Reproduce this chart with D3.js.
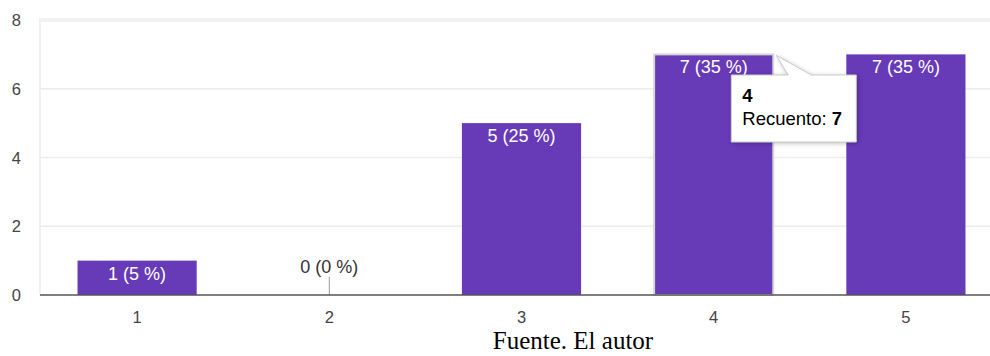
<!DOCTYPE html>
<html>
<head>
<meta charset="utf-8">
<script src="https://cdn.jsdelivr.net/npm/d3@7"></script>
<style>
  body { margin: 0; background: #fff; }
  text { font-family: Arial, "Liberation Sans", sans-serif; }
</style>
</head>
<body>
<script>
// chart data
const categories = ['1', '2', '3', '4', '5'];
const counts = [1, 0, 5, 7, 7];
const percents = [5, 0, 25, 35, 35];
const yTicks = [0, 2, 4, 6, 8];
const hovered = '4';

const width = 990;
const height = 356;

const svg = d3.select('body')
  .append('svg')
  .attr('width', width)
  .attr('height', height);

const x = d3.scaleBand()
  .domain(categories)
  .range([41, 1002])
  .paddingInner(0.38)
  .paddingOuter(0.19);

const y = d3.scaleLinear()
  .domain([0, 8])
  .range([295, 20]);

// plot frame + gridlines
svg.append('line')
  .attr('x1', 40).attr('x2', 40)
  .attr('y1', 18).attr('y2', 295)
  .attr('stroke', '#f0f0f0').attr('stroke-width', 2);

svg.append('g')
  .selectAll('line')
  .data(yTicks.filter(d => d > 0))
  .enter()
  .append('line')
  .attr('x1', 40).attr('x2', width)
  .attr('y1', d => y(d)).attr('y2', d => y(d))
  .attr('stroke', d => d === 8 ? '#f1f1f1' : '#ececec')
  .attr('stroke-width', d => d === 8 ? 4 : 1.5);

// y tick labels
svg.append('g')
  .selectAll('text')
  .data(yTicks)
  .enter()
  .append('text')
  .attr('x', 21)
  .attr('y', d => y(d) + 6)
  .attr('text-anchor', 'end')
  .attr('font-size', 16.5)
  .attr('fill', '#444')
  .text(d => d);

const data = categories.map((c, i) => ({ cat: c, n: counts[i], pct: percents[i] }));

// bars
svg.append('g')
  .selectAll('rect')
  .data(data.filter(d => d.n > 0))
  .enter()
  .append('rect')
  .attr('x', d => x(d.cat))
  .attr('y', d => y(d.n))
  .attr('width', x.bandwidth())
  .attr('height', d => y(0) - y(d.n))
  .attr('fill', '#673ab7')
  .attr('stroke', d => d.cat === hovered ? '#d6d6d6' : 'none')
  .attr('stroke-width', 2);

// labels inside bars
svg.append('g')
  .selectAll('text')
  .data(data.filter(d => d.n > 0))
  .enter()
  .append('text')
  .attr('x', d => x(d.cat) + x.bandwidth() / 2)
  .attr('y', d => y(d.n) + 19)
  .attr('text-anchor', 'middle')
  .attr('font-size', 18)
  .attr('fill', '#fff')
  .text(d => `${d.n} (${d.pct} %)`);

// zero-value annotations
const zeros = data.filter(d => d.n === 0);
svg.append('g')
  .selectAll('line')
  .data(zeros)
  .enter()
  .append('line')
  .attr('x1', d => x(d.cat) + x.bandwidth() / 2)
  .attr('x2', d => x(d.cat) + x.bandwidth() / 2)
  .attr('y1', y(0)).attr('y2', y(0) - 18)
  .attr('stroke', '#999').attr('stroke-width', 1);

svg.append('g')
  .selectAll('text')
  .data(zeros)
  .enter()
  .append('text')
  .attr('x', d => x(d.cat) + x.bandwidth() / 2)
  .attr('y', y(0) - 22)
  .attr('text-anchor', 'middle')
  .attr('font-size', 18)
  .attr('fill', '#333')
  .text(d => `${d.n} (${d.pct} %)`);

// baseline
svg.append('line')
  .attr('x1', 40).attr('x2', width)
  .attr('y1', y(0)).attr('y2', y(0))
  .attr('stroke', '#555').attr('stroke-width', 1.5);

// x tick labels
svg.append('g')
  .selectAll('text')
  .data(categories)
  .enter()
  .append('text')
  .attr('x', d => x(d) + x.bandwidth() / 2)
  .attr('y', 323)
  .attr('text-anchor', 'middle')
  .attr('font-size', 16.5)
  .attr('fill', '#444')
  .text(d => d);

// tooltip for hovered bar
const hv = data.find(d => d.cat === hovered);
const tipX = x(hv.cat) + x.bandwidth() + 3;
const tipY = y(hv.n) + 1;
const tip = svg.append('g');
const bx = tipX - 45, by = 75, bw = 125, bh = 67;
tip.append('path')
  .attr('d', `M${bx},${by} L${tipX + 12},${by} L${tipX},${tipY} L${tipX + 35},${by} L${bx + bw},${by} L${bx + bw},${by + bh} L${bx},${by + bh} Z`)
  .attr('fill', '#fff')
  .attr('stroke', '#cccccc')
  .attr('stroke-width', 1)
  .style('filter', 'drop-shadow(1px 1px 2px rgba(0,0,0,0.25))');
tip.append('text')
  .attr('x', bx + 11).attr('y', by + 27)
  .attr('font-size', 18.5).attr('font-weight', 'bold').attr('fill', '#000')
  .text(hv.cat);
const t2 = tip.append('text')
  .attr('x', bx + 11).attr('y', by + 50)
  .attr('font-size', 18.5).attr('fill', '#000');
t2.append('tspan').text('Recuento: ');
t2.append('tspan').attr('font-weight', 'bold').text(hv.n);

// source caption
svg.append('text')
  .attr('x', 573)
  .attr('y', 349)
  .attr('text-anchor', 'middle')
  .attr('font-size', 25)
  .style('font-family', '"Liberation Serif", "Times New Roman", serif')
  .attr('fill', '#000')
  .text('Fuente. El autor');
</script>
</body>
</html>
